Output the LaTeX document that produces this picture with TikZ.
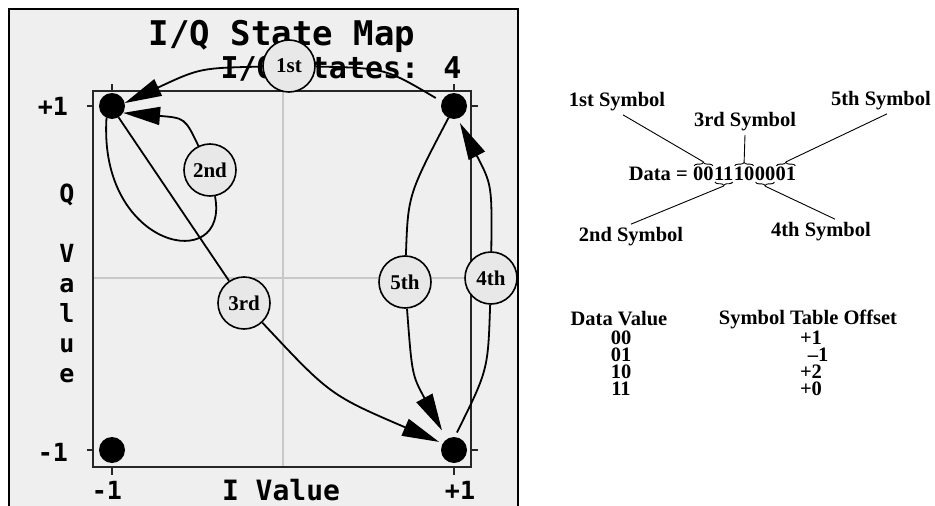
\documentclass[tikz,border=0pt]{standalone}
\usepackage{fontspec}
\setmainfont{Liberation Serif}
\newfontfamily\lcdfont{DejaVu Sans Mono}
\usetikzlibrary{arrows.meta,positioning,decorations.pathreplacing}
\definecolor{screen}{HTML}{EFEFEF}
\definecolor{gridgray}{HTML}{C8C8C8}
\definecolor{bubblegray}{HTML}{E8E8E8}

\begin{document}
\begin{tikzpicture}[x=1pt, y=-1pt, >={Triangle[length=37pt,width=18pt]},
    statedot/.style={circle, fill=black, minimum size=26pt, inner sep=0pt, outer sep=0pt},
    bubble/.style={circle, draw=black, line width=1.6pt, fill=bubblegray, minimum size=52pt,
        inner sep=0pt, font=\fontsize{21}{21}\selectfont\bfseries},
    trans/.style={line width=1.8pt},
    lcd/.style={font=\lcdfont\bfseries\fontsize{25}{30}\selectfont},
    rtext/.style={font=\fontsize{20.5}{22}\selectfont\bfseries},
    digit/.style={rtext, inner sep=0pt},
    smallbrace/.style={decorate, decoration={brace, amplitude=3.5pt}, line width=0.9pt},
    leader/.style={line width=0.9pt}]
    \useasboundingbox (0,0) rectangle (935,506);

    % 1. Khung man hinh
    \fill[screen] (9,9) rectangle (518,506);
    \draw[line width=2.5pt] (9,512) -- (9,9) -- (518,9) -- (518,512);

    % 2. Tieu de
    \node[lcd, font=\lcdfont\bfseries\fontsize{34}{34}\selectfont] (title) at (282,36) {I/Q State Map};
    \node[lcd, font=\lcdfont\bfseries\fontsize{30}{30}\selectfont] (states) at (341,69) {I/Q States: 4};

    % 3. Luoi va khung do thi
    \draw[gridgray, line width=1.5pt] (283,91) -- (283,467);
    \draw[gridgray, line width=1.5pt] (93,278) -- (471,278);
    \draw[black!85, line width=1.6pt] (93,91) rectangle (471,467);
    \foreach \p in {112,454} {
        \draw[black!85, line width=1.4pt] (\p,84) -- (\p,91);
        \draw[black!85, line width=1.4pt] (\p,467) -- (\p,475);
    }
    \foreach \p in {106,450} {
        \draw[black!85, line width=1.4pt] (87,\p) -- (93,\p);
        \draw[black!85, line width=1.4pt] (471,\p) -- (478,\p);
    }

    % 4. Nhan truc
    \node[lcd] (yplus) at (53,106) {+1};
    \node[lcd] (yminus) at (53,452) {-1};
    \node[lcd] (xminus) at (107,490) {-1};
    \node[lcd] (xplus) at (460,490) {+1};
    \node[lcd, font=\lcdfont\bfseries\fontsize{28}{28}\selectfont] (ilabel) at (281,490) {I Value};
    \node[lcd, align=center] (qlabel) at (67,283) {Q\\[30pt]V\\a\\l\\u\\e};

    % 5. Bon trang thai I/Q
    \node[statedot] (q1) at (112,106) {};
    \node[statedot] (q2) at (454,106) {};
    \node[statedot] (q3) at (112,450) {};
    \node[statedot] (q4) at (454,450) {};

    % 6. Cac ky hieu
    \node[bubble] (c1) at (289,66) {1st};
    \node[bubble] (c2) at (210,170) {2nd};
    \node[bubble] (c3) at (244,303) {3rd};
    \node[bubble] (c4) at (491,278) {4th};
    \node[bubble] (c5) at (405,282) {5th};

    % 7. Cac buoc chuyen trang thai
    \draw[trans, shorten <=7pt] (q2.160) .. controls (385,68) .. (c1);
    \draw[trans, ->] (c1) .. controls (200,68) .. (q1.13);
    \draw[trans] (q1.-115) .. controls (98,250) and (230,275) .. (c2);
    \draw[trans, ->] (c2) .. controls (185,118) .. (q1.-32);
    \draw[trans] (q1.-60) -- (c3);
    \draw[trans, ->, shorten >=4pt] (c3) .. controls (330,395) .. (q4.150);
    \draw[trans, shorten <=5pt] (q4.87) .. controls (488,370) .. (c4);
    \draw[trans, ->, shorten >=5pt] (c4) .. controls (492,185) .. (q2.-74);
    \draw[trans] (q2.-115) .. controls (408,195) .. (c5);
    \draw[trans, ->, shorten >=10pt] (c5) .. controls (412,375) .. (q4.124);

    % 8. Chuoi du lieu va cac ngoac
    \node[digit, anchor=west] (p1) at (693,174) {00};
    \node[digit, right=0pt of p1] (p2) {11};
    \node[digit, right=0pt of p2] (p3) {10};
    \node[digit, right=0pt of p3] (p4) {00};
    \node[digit, right=0pt of p4] (p5) {01};
    \node[digit, left=5pt of p1] (datalbl) {Data =};
    \draw[smallbrace] ([xshift=1pt, yshift=1pt]p1.north west) -- ([xshift=-1pt, yshift=1pt]p1.north east);
    \draw[smallbrace] ([xshift=-1pt, yshift=-1pt]p2.south east) -- ([xshift=1pt, yshift=-1pt]p2.south west);
    \draw[smallbrace] ([xshift=1pt, yshift=1pt]p3.north west) -- ([xshift=-1pt, yshift=1pt]p3.north east);
    \draw[smallbrace] ([xshift=-1pt, yshift=-1pt]p4.south east) -- ([xshift=1pt, yshift=-1pt]p4.south west);
    \draw[smallbrace] ([xshift=1pt, yshift=1pt]p5.north west) -- ([xshift=-1pt, yshift=1pt]p5.north east);
    \coordinate (b1) at ([yshift=5pt]p1.north);
    \coordinate (b2) at ([yshift=-5pt]p2.south);
    \coordinate (b3) at ([yshift=5pt]p3.north);
    \coordinate (b4) at ([yshift=-5pt]p4.south);
    \coordinate (b5) at ([yshift=5pt]p5.north);

    % 9. Nhan ky hieu
    \node[rtext] (s1) at (617,102) {1st Symbol};
    \node[rtext] (s3) at (745,122) {3rd Symbol};
    \node[rtext] (s5) at (881,101) {5th Symbol};
    \node[rtext] (s2) at (631,237) {2nd Symbol};
    \node[rtext] (s4) at (821,232) {4th Symbol};
    \draw[leader] ([xshift=6pt]s1.south) -- (b1);
    \draw[leader] (s3.south) -- (b3);
    \draw[leader] ([xshift=6pt]s5.south) -- (b5);
    \draw[leader] (s2.north) -- (b2);
    \draw[leader] ([xshift=14pt]s4.north) -- (b4);

    % 10. Bang offset
    \node[rtext] (hdata) at (619,319) {Data Value};
    \node[rtext] (hoffset) at (808,319) {Symbol Table Offset};
    \foreach \dv/\off/\ox [count=\i] in {00/+1/811, 01/–1/818, 10/+2/811, 11/+0/811} {
        \node[digit] (dv\i) at (621,{321.5+16.7*\i}) {\dv};
        \node[digit] (off\i) at (\ox,{321.5+16.7*\i}) {\off};
    }

\end{tikzpicture}
\end{document}
